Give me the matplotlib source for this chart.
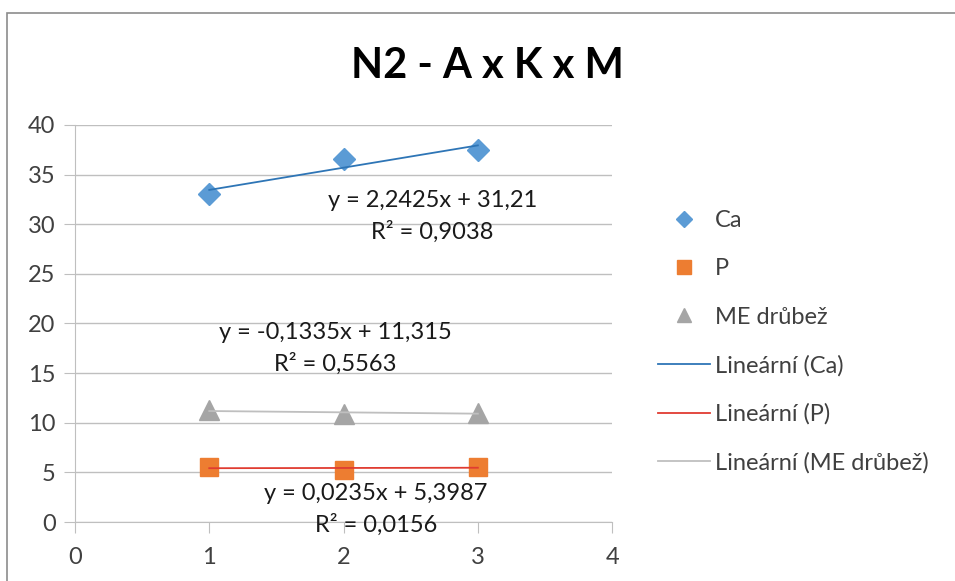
import numpy as np
import matplotlib
matplotlib.use("Agg")
import matplotlib.pyplot as plt
from matplotlib.patches import Rectangle

plt.rcParams["font.family"] = ["Lato", "DejaVu Sans"]

# measured values per series (x = treatment level)
x = [1, 2, 3]
ca = [33.03, 36.54, 37.52]
p = [5.53, 5.23, 5.58]
me = [11.25, 10.91, 10.98]

# linear trend coefficients as reported on the chart
trend_slope = [2.2425, 0.0235, -0.1335]
trend_icpt = [31.21, 5.3987, 11.315]
trend_r2 = ["0,9038", "0,0156", "0,5563"]
trend_text = ["y = 2,2425x + 31,21", "y = 0,0235x + 5,3987", "y = -0,1335x + 11,315"]
labels = ["Ca", "P", "ME drůbež"]

# where each equation box sits (data coords)
eq_pos = [(2.66, 32.4), (2.24, 2.9), (1.94, 19.1)]

MARK = ["#5b9bd5", "#ed7d31", "#a5a5a5"]
TREND = ["#2e75b6", "#e03c31", "#bfbfbf"]
SHAPE = ["D", "s", "^"]
SIZE = [11, 13.5, 14]
INK = "#404040"
GRID = "#bfbfbf"

fig = plt.figure(figsize=(9.55, 5.81), dpi=100)
ax = fig.add_axes([0.0785, 0.1015, 0.5625, 0.6835])

# outer chart frame (runs off the right and bottom edges)
fig.patches.append(Rectangle((7 / 955, -0.2), 1.2, 1.2 - 13 / 581,
                             transform=fig.transFigure, fill=False,
                             edgecolor="#8c8c8c", lw=1.2, clip_on=False))

xs = np.array(x, dtype=float)
series = [ca, p, me]
handles_pts, handles_tr = [], []
for i, ys in enumerate(series):
    h, = ax.plot(x, ys, SHAPE[i], color=MARK[i], ms=SIZE[i], mec=MARK[i],
                 ls="none", zorder=3, label=labels[i])
    handles_pts.append(h)
for i in range(3):
    t, = ax.plot(xs, trend_slope[i] * xs + trend_icpt[i], color=TREND[i],
                 lw=1.3, zorder=4, label="Lineární (%s)" % labels[i])
    handles_tr.append(t)
    ex, ey = eq_pos[i]
    ax.text(ex, ey, trend_text[i], ha="center", va="center", fontsize=17,
            color="#1a1a1a", zorder=5)
    ax.text(ex, ey - 3.2, "R² = " + trend_r2[i], ha="center", va="center",
            fontsize=17, color="#1a1a1a", zorder=5)

ax.set_xlim(0, 4)
ax.set_ylim(0, 40)
ax.set_xticks([0, 1, 2, 3, 4])
ax.set_yticks(range(0, 41, 5))
ax.yaxis.grid(True, color=GRID, lw=1.0)
ax.set_axisbelow(True)
for s in ["top", "right"]:
    ax.spines[s].set_visible(False)
for s in ["left", "bottom"]:
    ax.spines[s].set_color(GRID)
ax.tick_params(direction="out", length=8, color=GRID, labelcolor=INK,
               labelsize=17, pad=6)
ax.tick_params(axis="x", pad=10)

fig.text(487 / 955, 1 - 66 / 581, "N2 - A x K x M", fontsize=30,
         fontweight="bold", color="black", ha="center", va="center")

hs = handles_pts + handles_tr
fig.legend(hs, [h.get_label() for h in hs],
           loc="center left", bbox_to_anchor=(658 / 955, 1 - 342 / 581),
           frameon=False, borderpad=0, borderaxespad=0,
           fontsize=17, handlelength=2.2, handletextpad=0.2, labelspacing=1.15,
           labelcolor=INK, markerscale=0.75)

fig.savefig("out.png", dpi=100, facecolor="white")
